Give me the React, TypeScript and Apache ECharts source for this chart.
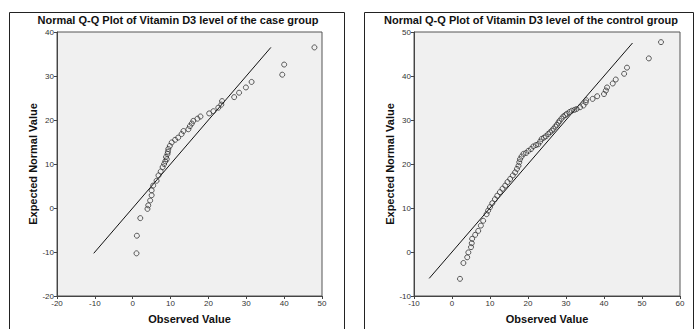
import React, { useEffect, useRef } from "react";
import * as echarts from "echarts";

// Case group: [observed, expected normal]
const caseObserved = [1.0, 1.1, 2.0, 3.9, 4.1, 4.6, 5.0, 5.0, 5.4, 6.3, 6.8, 7.4, 7.9, 8.3, 8.6, 8.8, 9.0, 9.2, 9.3, 9.4, 9.8, 10.3, 11.2, 12.0, 12.9, 13.4, 14.7, 15.1, 15.6, 16.0, 17.1, 17.9, 20.2, 21.3, 22.6, 23.4, 23.6, 26.8, 28.1, 29.9, 31.4, 39.5, 40.0, 48.0];
const caseExpected = [-10.3, -6.3, -2.3, -0.2, 0.6, 1.7, 2.9, 4.0, 5.1, 6.2, 7.4, 8.3, 9.3, 10.0, 10.6, 11.6, 11.1, 12.3, 12.8, 13.4, 14.1, 14.9, 15.5, 16.0, 16.8, 17.5, 17.9, 18.6, 19.2, 19.8, 20.3, 20.8, 21.5, 22.0, 22.8, 23.5, 24.3, 25.2, 26.2, 27.4, 28.65, 30.3, 32.6, 36.5];
const caseLine = [-10.3, 36.5];

// Control group
const controlObserved = [2.1, 3.0, 4.0, 4.3, 5.0, 5.2, 5.3, 6.1, 6.9, 7.6, 8.2, 9.1, 9.5, 10.0, 10.6, 11.3, 11.9, 12.6, 13.3, 14.0, 14.6, 15.3, 16.0, 16.6, 17.1, 17.5, 17.7, 17.9, 18.3, 18.8, 19.5, 20.1, 20.8, 21.4, 22.1, 22.7, 23.2, 23.6, 24.2, 24.7, 25.3, 25.8, 26.3, 26.7, 27.2, 27.6, 28.0, 28.3, 28.8, 29.3, 29.8, 30.2, 30.9, 31.5, 32.2, 32.8, 33.7, 34.6, 35.2, 35.3, 37.0, 38.2, 40.0, 40.5, 40.8, 42.3, 43.1, 45.3, 46.05, 51.8, 55.0];
const controlExpected = [-6.1, -2.5, -1.2, -0.1, 1.1, 2.0, 3.0, 3.9, 4.8, 6.0, 7.1, 8.6, 9.4, 10.2, 11.1, 12.0, 12.8, 13.6, 14.4, 15.1, 15.9, 16.6, 17.4, 18.1, 18.9, 19.6, 20.4, 21.1, 21.7, 22.3, 22.5, 23.0, 23.4, 24.0, 24.3, 24.5, 25.1, 25.7, 26.0, 26.3, 26.8, 27.2, 27.6, 28.0, 28.5, 28.9, 29.4, 29.8, 30.3, 30.8, 31.1, 31.4, 31.8, 32.1, 32.3, 32.5, 32.9, 33.3, 34.0, 34.5, 34.8, 35.4, 35.9, 36.7, 37.4, 38.3, 39.2, 40.5, 41.9, 44.0, 47.7];
const controlLine = [-6.0, 47.5];

const titles = [
  "Normal Q-Q Plot of Vitamin D3 level of the case group",
  "Normal Q-Q Plot of Vitamin D3 level of the control group",
];
const xTitle = "Observed Value";
const yTitle = "Expected Normal Value";

const FONT = "'Liberation Sans', Arial, sans-serif";

export default function App() {
  const ref = useRef<HTMLDivElement>(null);
  useEffect(() => {
    if (!ref.current) return;
    const chart = echarts.init(ref.current, null, { renderer: "svg" });
    const axisCommon = {
      axisLine: { show: true, onZero: false, lineStyle: { color: "#444", width: 1 } },
      axisTick: { show: true, inside: false, length: 3, lineStyle: { color: "#444" } },
      axisLabel: { fontSize: 8, color: "#333", fontFamily: FONT, margin: 3 },
      splitLine: { show: false },
      nameLocation: "middle" as const,
      nameTextStyle: { fontSize: 11, fontWeight: "bold" as const, color: "#111", fontFamily: FONT },
    };
    const scatterStyle = {
      type: "scatter" as const,
      symbol: "circle",
      symbolSize: 5,
      itemStyle: { color: "rgba(0,0,0,0)", borderColor: "#333", borderWidth: 1 },
      z: 3,
    };
    chart.setOption({
      animation: false,
      backgroundColor: "#fff",
      title: [
        { text: titles[0], left: 176, top: 11, padding: 2, textAlign: "center", textStyle: { fontSize: 11, lineHeight: 13, fontWeight: "bold", color: "#111", fontFamily: FONT } },
        { text: titles[1], left: 529, top: 11, padding: 2, textAlign: "center", textStyle: { fontSize: 11, lineHeight: 13, fontWeight: "bold", color: "#111", fontFamily: FONT } },
      ],
      graphic: [
        { type: "rect", shape: { x: 9.5, y: 12.5, width: 335, height: 340 }, style: { fill: "none", stroke: "#222", lineWidth: 1 }, silent: true },
        { type: "rect", shape: { x: 364.5, y: 12.5, width: 329, height: 340 }, style: { fill: "none", stroke: "#222", lineWidth: 1 }, silent: true },
      ],
      grid: [
        { left: 57, top: 32, width: 265, height: 266, show: true, backgroundColor: "#F0F0F0", borderColor: "#555", borderWidth: 1 },
        { left: 414, top: 32, width: 266, height: 265, show: true, backgroundColor: "#F0F0F0", borderColor: "#555", borderWidth: 1 },
      ],
      xAxis: [
        { ...axisCommon, type: "value", gridIndex: 0, min: -20, max: 50, interval: 10, name: xTitle, nameGap: 17 },
        { ...axisCommon, type: "value", gridIndex: 1, min: -10, max: 60, interval: 10, name: xTitle, nameGap: 17 },
      ],
      yAxis: [
        { ...axisCommon, type: "value", gridIndex: 0, min: -20, max: 40, interval: 10, name: yTitle, nameGap: 18 },
        { ...axisCommon, type: "value", gridIndex: 1, min: -10, max: 50, interval: 10, name: yTitle, nameGap: 18 },
      ],
      series: [
        { ...scatterStyle, xAxisIndex: 0, yAxisIndex: 0, data: caseObserved.map((v, i) => [v, caseExpected[i]]) },
        { type: "line", xAxisIndex: 0, yAxisIndex: 0, data: caseLine.map((v) => [v, v]), showSymbol: false, symbol: "none", lineStyle: { color: "#111", width: 1 }, z: 2 },
        { ...scatterStyle, xAxisIndex: 1, yAxisIndex: 1, data: controlObserved.map((v, i) => [v, controlExpected[i]]) },
        { type: "line", xAxisIndex: 1, yAxisIndex: 1, data: controlLine.map((v) => [v, v]), showSymbol: false, symbol: "none", lineStyle: { color: "#111", width: 1 }, z: 2 },
      ],
    });
    return () => chart.dispose();
  }, []);
  return (
    <div style={{ position: "fixed", left: 0, top: 0, width: 695, height: 329, background: "#fff" }}>
      <div ref={ref} style={{ width: 695, height: 329 }} />
    </div>
  );
}
